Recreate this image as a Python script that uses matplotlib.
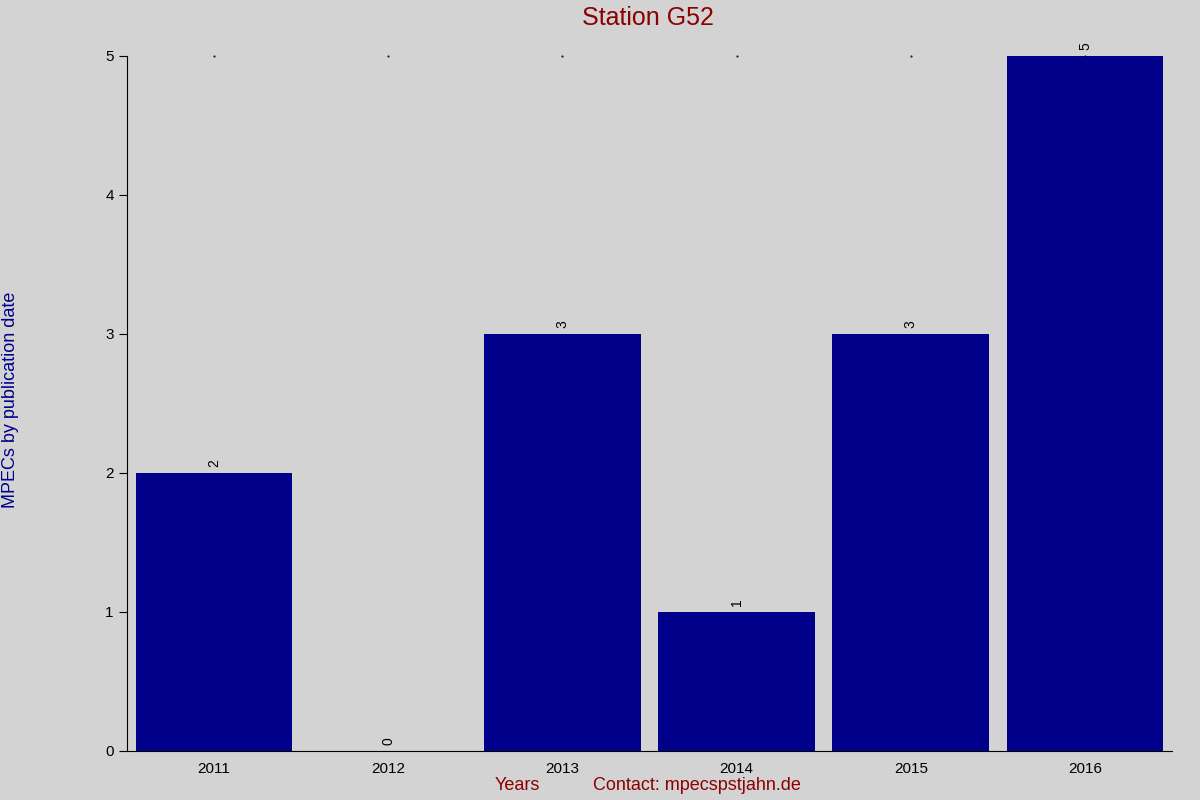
import matplotlib
matplotlib.use("Agg")
import matplotlib.pyplot as plt

plt.rcParams['font.family'] = ['Liberation Sans', 'DejaVu Sans']

years = ["2011", "2012", "2013", "2014", "2015", "2016"]
counts = [2, 0, 3, 1, 3, 5]

fig = plt.figure(figsize=(12, 8), dpi=100, facecolor='#d3d3d3')
ax = fig.add_axes([0.1058, 0.06125, 0.871, 0.869])
ax.set_facecolor('#d3d3d3')
x = list(range(len(years)))
ax.bar(x, counts, width=0.9, color='#00008b')
for xi, c in zip(x, counts):
    ax.text(xi, c + 0.04, str(c), rotation=90, ha='center', va='bottom', fontsize=10)
ax.set_xlim(-0.5, 5.5)
ax.set_ylim(0, 5)
ax.set_xticks(x)
ax.set_xticklabels(years, fontsize=11)
ax.set_yticks(range(6))
ax.tick_params(axis='y', labelsize=11, direction='out', length=6)
ax.tick_params(axis='x', length=0, pad=8)
for s in ['top', 'right']:
    ax.spines[s].set_visible(False)
for xi in x:
    ax.plot([xi], [5], marker='.', markersize=1, color='black', clip_on=False)

fig.text(0.54, 0.977, "Station G52", ha='center', va='center', fontsize=18, color='#8b0000')
fig.text(0.009, 0.5, "MPECs by publication date", rotation=90, ha='center', va='center', fontsize=13, color='#00008b')
fig.text(0.431, 0.0175, "Years", ha='center', va='center', fontsize=13, color='#8b0000')
fig.text(0.581, 0.0175, "Contact: mpecspstjahn.de", ha='center', va='center', fontsize=13, color='#8b0000')

fig.savefig("out.png", dpi=100, facecolor=fig.get_facecolor())
